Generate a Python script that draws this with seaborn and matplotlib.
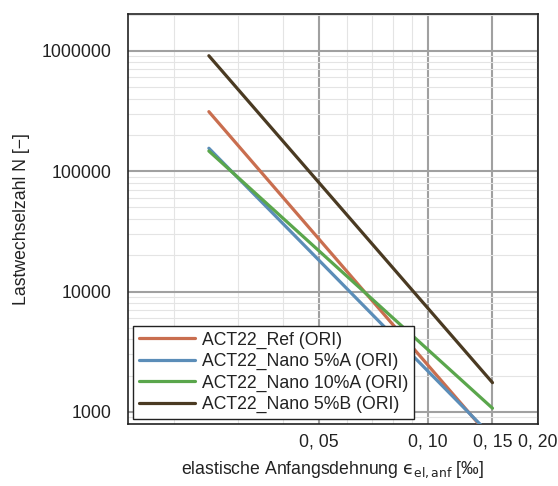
import numpy as np
import pandas as pd
import matplotlib
matplotlib.use("Agg")
import matplotlib.pyplot as plt
from matplotlib.ticker import FixedLocator, FixedFormatter, NullFormatter
import seaborn as sns

# Daten (Endpunkte der Woehlerlinien)
dehnung = [0.025, 0.15]
n_ref = [312000, 586]
n_nano5a = [155000, 621]
n_nano10a = [147000, 1073]
n_nano5b = [909000, 1750]

serien = ["ACT22_Ref (ORI)", "ACT22_Nano 5%A (ORI)",
          "ACT22_Nano 10%A (ORI)", "ACT22_Nano 5%B (ORI)"]
farben = ["#c96e4f", "#5b8db8", "#5aa64c", "#4a3a22"]

x_ticks = [0.05, 0.10, 0.15, 0.20]
x_labels = ["0, 05", "0, 10", "0, 15", "0, 20"]
y_ticks = [1000, 10000, 100000, 1000000]
y_labels = ["1000", "10000", "100000", "1000000"]

df = pd.DataFrame({
    "eps": dehnung * 4,
    "N": n_ref + n_nano5a + n_nano10a + n_nano5b,
    "serie": [s for s in serien for _ in dehnung],
})

fs = 12.7
sns.set_style("white")
plt.rcParams["font.family"] = ["Liberation Sans", "DejaVu Sans"]
plt.rcParams["mathtext.fontset"] = "dejavusans"

fig = plt.figure(figsize=(5.58, 4.86), dpi=100)
ax = fig.add_axes([0.2294, 0.1276, 0.9642 - 0.2294, 0.9712 - 0.1276])

sns.lineplot(data=df, x="eps", y="N", hue="serie", hue_order=serien,
             palette=farben, linewidth=2.3, ax=ax, zorder=3)

ax.set_xscale("log")
ax.set_yscale("log")
ax.set_xlim(0.015, 0.2)
ax.set_ylim(794, 2.02e6)

ax.xaxis.set_major_locator(FixedLocator(x_ticks))
ax.xaxis.set_major_formatter(FixedFormatter(x_labels))
ax.xaxis.set_minor_locator(FixedLocator([0.02, 0.03, 0.04, 0.06, 0.07, 0.08, 0.09]))
ax.xaxis.set_minor_formatter(NullFormatter())
ax.yaxis.set_major_locator(FixedLocator(y_ticks))
ax.yaxis.set_major_formatter(FixedFormatter(y_labels))
ax.yaxis.set_minor_locator(matplotlib.ticker.LogLocator(base=10, subs=np.arange(2, 10)))
ax.yaxis.set_minor_formatter(NullFormatter())

ax.grid(True, which="major", color="#a0a0a0", linewidth=1.5, zorder=1)
ax.grid(True, which="minor", color="#e4e4e4", linewidth=0.8, zorder=0)
ax.set_axisbelow(True)

ax.tick_params(which="major", direction="in", length=3, labelsize=fs,
               colors="#222222", pad=12)
ax.tick_params(which="minor", direction="in", length=1.5)
ax.tick_params(axis="x", pad=7)

for sp in ax.spines.values():
    sp.set_color("#222222")
    sp.set_linewidth(1.2)

ax.set_xlabel("elastische Anfangsdehnung $\\mathrm{\u03f5}_{\\mathrm{el,anf}}$ [‰]",
              fontsize=fs, labelpad=6, color="#222222")
ax.set_ylabel("Lastwechselzahl N [−]", fontsize=fs, labelpad=8, color="#222222")

leg = ax.legend(loc="lower left", fontsize=fs, frameon=True, fancybox=False,
                framealpha=1, edgecolor="#222222", handlelength=3.2,
                borderaxespad=0.3, labelspacing=0.25, handletextpad=0.4,
                borderpad=0.3)
leg.get_frame().set_linewidth(1.0)
leg.set_zorder(5)
for t in leg.get_texts():
    t.set_color("#222222")

fig.savefig("out.png", dpi=100)
